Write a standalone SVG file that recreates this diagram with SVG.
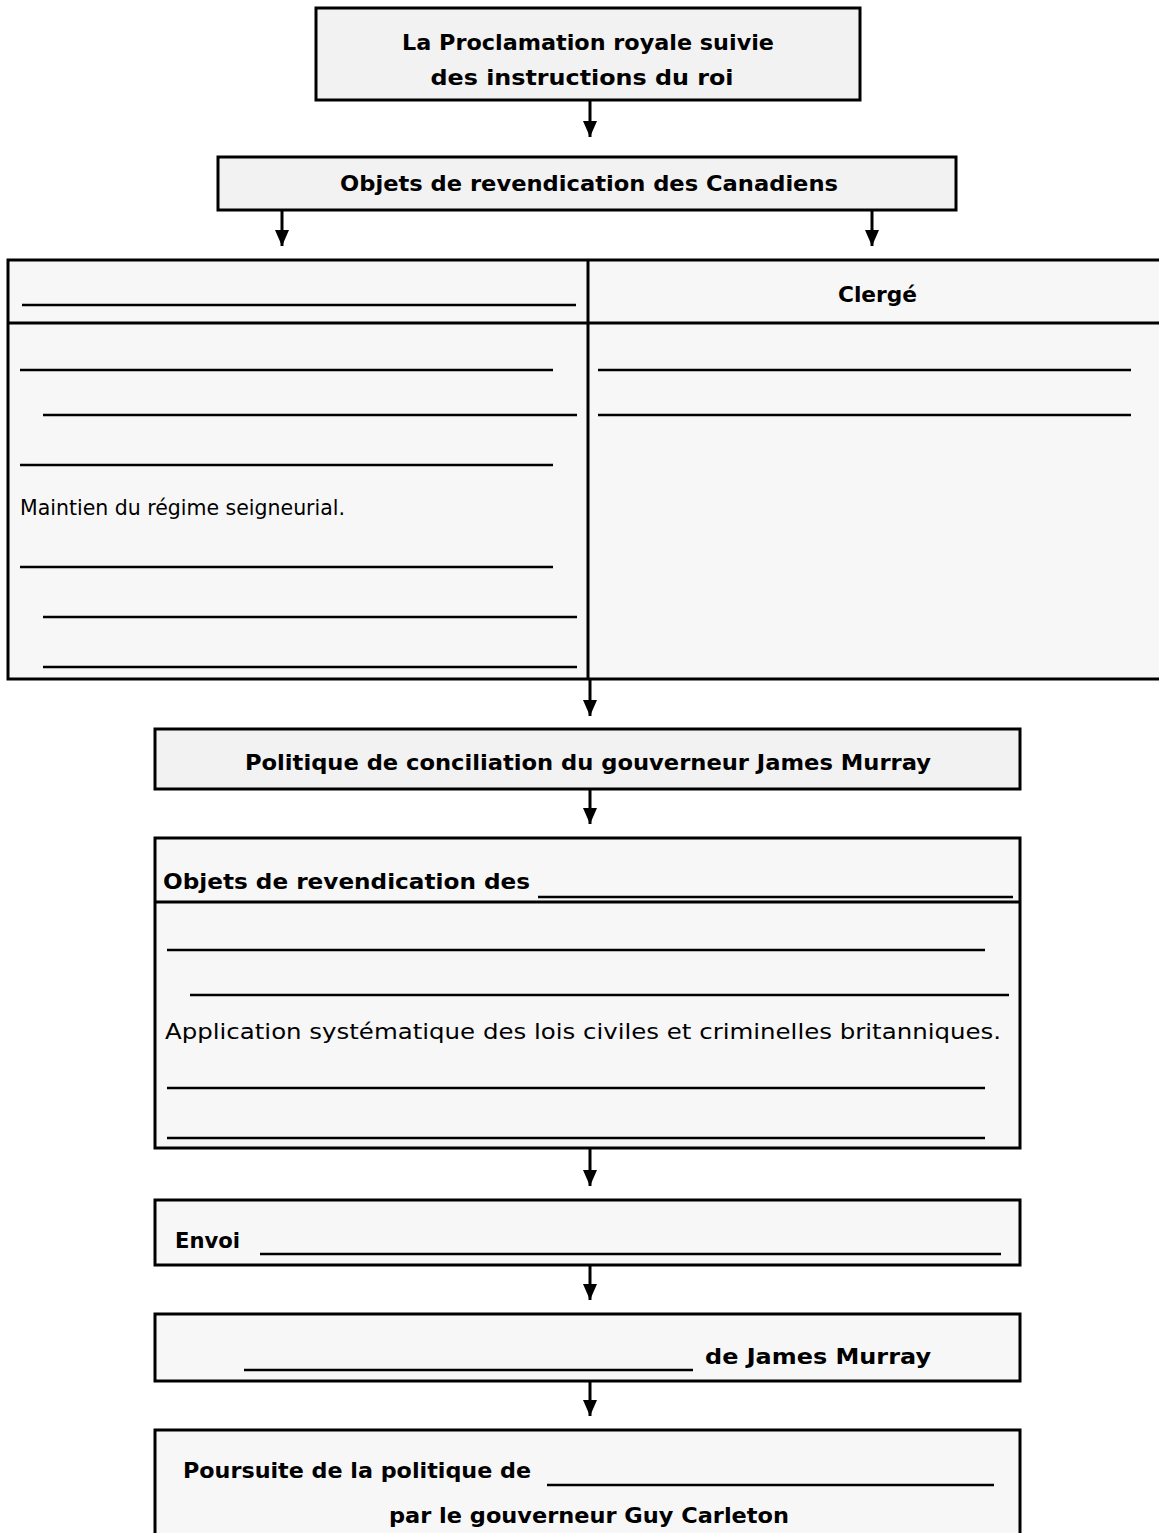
<svg xmlns="http://www.w3.org/2000/svg" width="1159" height="1533" viewBox="0 0 1159 1533">
<defs>
<style>
.box{fill:#f2f2f2;stroke:#000;stroke-width:3}
.box2{fill:#f7f7f7;stroke:#000;stroke-width:3}
.rule{stroke:#000;stroke-width:2.4;fill:none}
.sep{stroke:#000;stroke-width:3;fill:none}
.b{font-family:"DejaVu Sans","Liberation Sans",sans-serif;font-weight:bold;font-size:21px;fill:#000}
.r{font-family:"DejaVu Sans","Liberation Sans",sans-serif;font-size:22px;fill:#000}
.conn{stroke:#000;stroke-width:3;fill:none;marker-end:url(#ah)}
</style>
<marker id="ah" markerUnits="userSpaceOnUse" markerWidth="16" markerHeight="14" refX="16" refY="7" orient="auto">
<path d="M0,0 L16,7 L0,14 z" fill="#000"/>
</marker>
</defs>
<rect width="1159" height="1533" fill="#fff"/>

<g id="n-proclamation">
<rect class="box" x="316" y="8" width="544" height="92"/>
<text class="b" x="588" y="50" text-anchor="middle" textLength="372" lengthAdjust="spacingAndGlyphs">La Proclamation royale suivie</text>
<text class="b" x="582" y="85" text-anchor="middle" textLength="303" lengthAdjust="spacingAndGlyphs">des instructions du roi</text>
</g>

<g id="n-objets-canadiens">
<rect class="box" x="218" y="157" width="738" height="53"/>
<text class="b" x="340" y="191" textLength="498" lengthAdjust="spacingAndGlyphs">Objets de revendication des Canadiens</text>
</g>

<g id="n-table">
<rect class="box2" x="8" y="260" width="1156" height="419"/>
<line class="sep" x1="588" y1="260" x2="588" y2="679"/>
<line class="sep" x1="8" y1="323" x2="1164" y2="323"/>
<line class="rule" x1="22" y1="305" x2="576" y2="305"/>
<text class="b" x="838" y="302" textLength="79" lengthAdjust="spacingAndGlyphs">Clergé</text>
<line class="rule" x1="20" y1="370" x2="553" y2="370"/>
<line class="rule" x1="43" y1="415" x2="577" y2="415"/>
<line class="rule" x1="20" y1="465" x2="553" y2="465"/>
<text class="r" x="20" y="515" textLength="325" lengthAdjust="spacingAndGlyphs">Maintien du régime seigneurial.</text>
<line class="rule" x1="20" y1="567" x2="553" y2="567"/>
<line class="rule" x1="43" y1="617" x2="577" y2="617"/>
<line class="rule" x1="43" y1="667" x2="577" y2="667"/>
<line class="rule" x1="598" y1="370" x2="1131" y2="370"/>
<line class="rule" x1="598" y1="415" x2="1131" y2="415"/>
</g>

<g id="n-politique">
<rect class="box" x="155" y="729" width="865" height="60"/>
<text class="b" x="245" y="770" textLength="686" lengthAdjust="spacingAndGlyphs">Politique de conciliation du gouverneur James Murray</text>
</g>

<g id="n-objets-des">
<rect class="box2" x="155" y="838" width="865" height="310"/>
<line class="sep" x1="155" y1="902" x2="1020" y2="902"/>
<text class="b" x="163" y="889" textLength="367" lengthAdjust="spacingAndGlyphs">Objets de revendication des</text>
<line class="rule" x1="538" y1="897" x2="1013" y2="897"/>
<line class="rule" x1="167" y1="950" x2="985" y2="950"/>
<line class="rule" x1="190" y1="995" x2="1009" y2="995"/>
<text class="r" x="165" y="1039" textLength="836" lengthAdjust="spacingAndGlyphs">Application systématique des lois civiles et criminelles britanniques.</text>
<line class="rule" x1="167" y1="1088" x2="985" y2="1088"/>
<line class="rule" x1="167" y1="1138" x2="985" y2="1138"/>
</g>

<g id="n-envoi">
<rect class="box2" x="155" y="1200" width="865" height="65"/>
<text class="b" x="175" y="1248" textLength="65" lengthAdjust="spacingAndGlyphs">Envoi</text>
<line class="rule" x1="260" y1="1254" x2="1001" y2="1254"/>
</g>

<g id="n-murray">
<rect class="box2" x="155" y="1314" width="865" height="67"/>
<line class="rule" x1="244" y1="1370" x2="693" y2="1370"/>
<text class="b" x="705" y="1364" textLength="226" lengthAdjust="spacingAndGlyphs">de James Murray</text>
</g>

<g id="n-poursuite">
<rect class="box2" x="155" y="1430" width="865" height="110"/>
<text class="b" x="183" y="1478" textLength="348" lengthAdjust="spacingAndGlyphs">Poursuite de la politique de</text>
<line class="rule" x1="547" y1="1485" x2="994" y2="1485"/>
<text class="b" x="389" y="1523" textLength="400" lengthAdjust="spacingAndGlyphs">par le gouverneur Guy Carleton</text>
</g>

<g id="connectors">
<line class="conn" x1="590" y1="100" x2="590" y2="137"/>
<line class="conn" x1="282" y1="210" x2="282" y2="246"/>
<line class="conn" x1="872" y1="210" x2="872" y2="246"/>
<line class="conn" x1="590" y1="679" x2="590" y2="716"/>
<line class="conn" x1="590" y1="789" x2="590" y2="824"/>
<line class="conn" x1="590" y1="1148" x2="590" y2="1186"/>
<line class="conn" x1="590" y1="1265" x2="590" y2="1300"/>
<line class="conn" x1="590" y1="1381" x2="590" y2="1416"/>
</g>
</svg>
